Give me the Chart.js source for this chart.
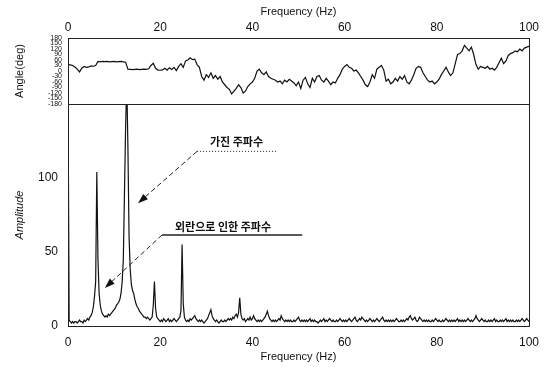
<!DOCTYPE html>
<html>
<head>
<meta charset="utf-8">
<script src="https://cdn.jsdelivr.net/npm/chart.js@4.4.0/dist/chart.umd.min.js"></script>
<style>
  body { margin: 0; background: #fff; }
  canvas { position: absolute; left: 0; }
</style>
</head>
<body>
<canvas id="angleChart" width="545" height="106" style="top:0px"></canvas>
<canvas id="ampChart" width="545" height="267" style="top:100px"></canvas>
<script>
// phase angle, one value every 0.5 Hz (0 .. 100 Hz)
const angleStep = 0.5;
const angleDeg = [
  35, 33, 30, 22, 10, -5, 15, 25, 20, 22, 28, 26, 30, 52, 50, 52, 51, 52, 50, 51,
  52, 50, 51, 52, 50, 48, 10, 9, 8, 9, 10, 8, 9, 10, 9, 12, 30, 42, 15, 5,
  4, 6, 15, 5, 18, 8, 20, 2, 25, 40, 20, 55, 60, 72, 62, 65, 35, 20, -30, -50,
  -20, -35, -10, -40, -25, -45, -30, -60, -75, -90, -100, -125, -110, -95, -75, -90, -120, -110, -85, -70,
  -60, -40, 0, 10, -10, -20, -5, -30, -40, -45, -50, -60, -55, -70, -50, -60, -45, -55, -65, -80,
  -60, -95, -50, -35, -70, -90, -40, -60, -30, -25, -50, -60, -40, -55, -75, -60, -65, -40, -20, 10,
  25, 35, 20, 15, 0, 5, -10, -30, -50, -75, -85, -60, -20, -40, 10, 20, 30, 5, -55, -45,
  -70, -60, -40, -55, -30, -45, -25, -60, -70, -50, -20, 15, 25, 20, -10, -30, -50, -60, -55, -70,
  -60, -45, -20, 0, 20, -5, -25, -10, 40, 90, 95, 110, 140, 125, 110, 130, 90, 35, 10, 25,
  20, 15, 25, 10, 15, 5, 20, 45, 70, 40, 55, 85, 95, 100, 110, 105, 120, 110, 125, 130,
  135
];

// amplitude spectrum, one value every 0.25 Hz (0 .. 100 Hz)
const ampStep = 0.25;
const amplitude = [
  160, 4, 3, 2,  3, 2, 3, 3,  2, 3, 4, 3,  3, 2, 4, 3,  4, 5, 4, 6,
  7, 9, 13, 20,  30, 104, 45, 22,  14, 10, 8, 7,  6, 7, 6, 8,  7, 8, 9, 10,
  11, 12, 14, 15,  16, 18, 22, 30,  45, 90, 135, 165,  120, 60, 38, 28,  24, 22, 18, 15,
  13, 12, 10, 9,  8, 7, 6, 6,  5, 6, 5, 4,  5, 6, 14, 30,  12, 6, 5, 4,
  3, 4, 3, 5,  4, 3, 4, 5,  3, 4, 3, 4,  5, 4, 3, 4,  5, 6, 10, 55,
  15, 6, 4, 3,  4, 3, 5, 4,  5, 6, 7, 5,  4, 3, 4, 3,  4, 3, 2, 3,
  4, 5, 7, 9,  11, 7, 5, 4,  3, 4, 3, 2,  3, 4, 3, 3,  4, 3, 4, 5,
  4, 5, 4, 6,  5, 7, 8, 6,  9, 19, 8, 5,  4, 5, 3, 4,  5, 4, 6, 4,
  5, 7, 5, 4,  3, 4, 3, 4,  3, 4, 5, 6,  8, 10, 7, 5,  4, 3, 4, 3,
  4, 3, 4, 5,  4, 7, 5, 4,  3, 4, 3, 4,  3, 4, 3, 3,  4, 3, 4, 5,
  6, 4, 3, 4,  3, 4, 3, 4,  3, 4, 5, 3,  4, 3, 4, 3,  3, 2, 3, 4,
  3, 4, 5, 3,  4, 3, 4, 5,  4, 3, 4, 3,  3, 4, 3, 4,  5, 4, 3, 4,
  3, 4, 3, 4,  5, 4, 3, 4,  5, 6, 4, 3,  4, 5, 4, 6,  5, 4, 3, 4,
  3, 4, 5, 4,  3, 4, 3, 4,  5, 4, 3, 4,  5, 6, 4, 3,  4, 3, 4, 3,
  4, 3, 4, 3,  4, 5, 4, 3,  3, 4, 3, 4,  3, 4, 5, 4,  6, 7, 5, 4,
  5, 6, 4, 3,  4, 6, 5, 4,  3, 4, 3, 4,  3, 4, 3, 3,  4, 3, 4, 5,
  4, 3, 4, 3,  3, 4, 3, 4,  5, 4, 3, 4,  3, 4, 3, 4,  3, 4, 5, 3,
  4, 3, 4, 3,  4, 3, 4, 5,  4, 3, 4, 3,  4, 5, 7, 5,  4, 3, 4, 5,
  4, 3, 4, 3,  3, 4, 3, 4,  3, 4, 5, 3,  4, 3, 3, 4,  3, 4, 3, 4,
  5, 3, 4, 3,  4, 3, 4, 3,  3, 4, 3, 4,  3, 4, 5, 4,  3, 4, 5, 4,
  3
];

const freqTicks = [0, 20, 40, 60, 80, 100];
const ampTicks = [0, 50, 100];

Chart.defaults.font.family = "'Liberation Sans', Arial, sans-serif";
Chart.defaults.color = '#111';

const toPoints = (vals, step) => vals.map((v, i) => ({ x: i * step, y: v }));

// fixed axis sizes so both panels line up
const fixSize = (w, h) => s => {
  if (w !== null) s.width = w;
  if (h !== null) s.height = h;
  s.paddingTop = s.paddingBottom = s.paddingLeft = s.paddingRight = 0;
};

// box around the plot area
const frame = {
  id: 'frame',
  afterDraw(chart) {
    const { ctx, chartArea: a } = chart;
    ctx.save();
    ctx.strokeStyle = '#222';
    ctx.lineWidth = 1;
    ctx.strokeRect(a.left + 0.5, a.top + 0.5, a.right - a.left, a.bottom - a.top);
    ctx.restore();
  }
};

// korean callouts with arrows, placed in data units
const notes = {
  id: 'notes',
  afterDraw(chart) {
    const { ctx, scales: { x, y } } = chart;
    const P = (f, a) => [x.getPixelForValue(f), y.getPixelForValue(a)];

    const arrow = (from, to) => {
      const [x0, y0] = P(...from), [x1, y1] = P(...to);
      const ang = Math.atan2(y1 - y0, x1 - x0);
      ctx.setLineDash([5, 3]);
      ctx.beginPath();
      ctx.moveTo(x0, y0);
      ctx.lineTo(x1 - 8 * Math.cos(ang), y1 - 8 * Math.sin(ang));
      ctx.stroke();
      ctx.setLineDash([]);
      ctx.beginPath();
      ctx.moveTo(x1, y1);
      ctx.lineTo(x1 - 10 * Math.cos(ang) + 3.5 * Math.sin(ang), y1 - 10 * Math.sin(ang) - 3.5 * Math.cos(ang));
      ctx.lineTo(x1 - 10 * Math.cos(ang) - 3.5 * Math.sin(ang), y1 - 10 * Math.sin(ang) + 3.5 * Math.cos(ang));
      ctx.closePath();
      ctx.fill();
    };
    const line = (from, to, dash, w) => {
      const [x0, y0] = P(...from), [x1, y1] = P(...to);
      ctx.setLineDash(dash);
      ctx.lineWidth = w;
      ctx.beginPath();
      ctx.moveTo(x0, y0);
      ctx.lineTo(x1, y1);
      ctx.stroke();
      ctx.setLineDash([]);
      ctx.lineWidth = 1;
    };

    ctx.save();
    ctx.strokeStyle = '#222';
    ctx.fillStyle = '#111';
    ctx.font = "bold 11px 'Noto Sans CJK KR', sans-serif";
    ctx.textBaseline = 'middle';
    ctx.textAlign = 'left';

    const [tx1, ty1] = P(30.8, 124.5);
    ctx.fillText('가진 주파수', tx1, ty1);
    line([28, 118], [45.5, 118], [1, 2], 1);
    arrow([28, 118], [15.2, 83]);

    const [tx2, ty2] = P(23.2, 67);
    ctx.fillText('외란으로 인한 주파수', tx2, ty2);
    line([20.4, 61.5], [50.8, 61.5], [], 1.5);
    arrow([20.4, 61.5], [8, 25.7]);
    ctx.restore();
  }
};

const lineStyle = {
  borderColor: '#111',
  borderWidth: 1.2,
  pointRadius: 0,
  tension: 0,
  fill: false
};

new Chart(document.getElementById('angleChart'), {
  type: 'line',
  data: { datasets: [{ data: toPoints(angleDeg, angleStep), ...lineStyle }] },
  options: {
    responsive: false,
    animation: false,
    devicePixelRatio: 1,
    layout: { autoPadding: false, padding: { left: 0, right: 16, top: 0, bottom: 2 } },
    plugins: { legend: { display: false }, tooltip: { enabled: false } },
    scales: {
      x: {
        type: 'linear', position: 'top', min: 0, max: 100,
        afterBuildTicks: s => { s.ticks = freqTicks.map(v => ({ value: v })); },
        afterFit: fixSize(null, 38),
        grid: { display: false, drawTicks: false },
        border: { display: false },
        ticks: { padding: 3, font: { size: 12 } },
        title: { display: true, text: 'Frequency (Hz)', font: { size: 11 }, padding: { top: 5, bottom: 0 } }
      },
      y: {
        min: -180, max: 180,
        afterFit: fixSize(68, null),
        grid: { display: false, drawTicks: false },
        border: { display: false },
        ticks: { stepSize: 30, autoSkip: false, padding: 6, font: { size: 7 } },
        title: { display: true, text: 'Angle(deg)', font: { size: 11 }, padding: { top: 13, bottom: 0 } }
      }
    }
  },
  plugins: [frame]
});

new Chart(document.getElementById('ampChart'), {
  type: 'line',
  data: { datasets: [{ data: toPoints(amplitude, ampStep), ...lineStyle }] },
  options: {
    responsive: false,
    animation: false,
    devicePixelRatio: 1,
    layout: { autoPadding: false, padding: { left: 0, right: 16, top: 4, bottom: 0 } },
    plugins: { legend: { display: false }, tooltip: { enabled: false } },
    scales: {
      x: {
        type: 'linear', position: 'bottom', min: 0, max: 100,
        afterBuildTicks: s => { s.ticks = freqTicks.map(v => ({ value: v })); },
        afterFit: fixSize(null, 41),
        grid: { display: false, drawTicks: false },
        border: { display: false },
        ticks: { padding: 9, font: { size: 12 } },
        title: { display: true, text: 'Frequency (Hz)', font: { size: 11 }, padding: { top: 0, bottom: 3 } }
      },
      y: {
        min: 0, max: 150,
        afterBuildTicks: s => { s.ticks = ampTicks.map(v => ({ value: v })); },
        afterFit: fixSize(68, null),
        grid: { display: false, drawTicks: false },
        border: { display: false },
        ticks: { padding: 10, font: { size: 12 } },
        title: { display: true, text: 'Amplitude', font: { size: 11, style: 'italic' }, padding: { top: 13, bottom: 0 } }
      }
    }
  },
  plugins: [frame, notes]
});
</script>
</body>
</html>
